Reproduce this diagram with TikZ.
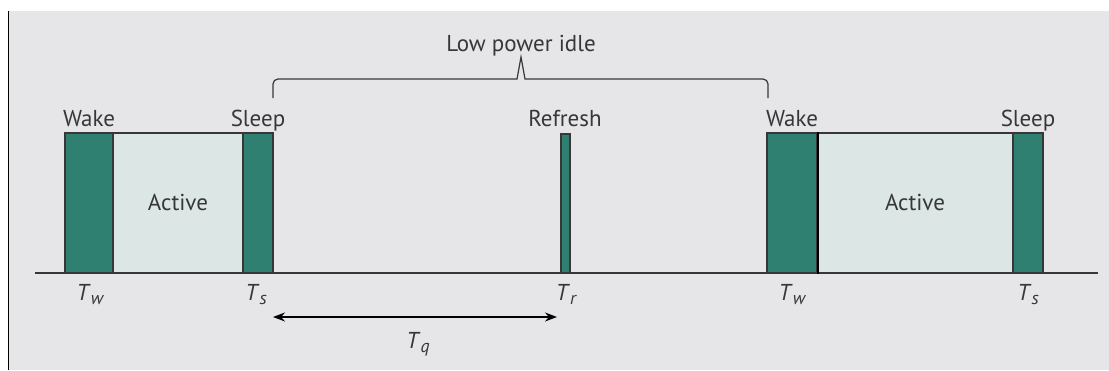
\documentclass[tikz,border=0pt]{standalone}
\usepackage{fontspec}
\setmainfont{PT Sans}
\usetikzlibrary{arrows.meta, positioning, fit, calc}
\definecolor{phasegreen}{RGB}{47,128,113}
\definecolor{activefill}{RGB}{220,231,229}
\definecolor{panelgray}{RGB}{230,230,232}
\definecolor{inkgray}{RGB}{55,55,55}

\newcommand{\tmark}[1]{\textit{T}\raisebox{-0.35ex}{\fontsize{9}{10}\selectfont\itshape #1}}

\begin{document}
\begin{tikzpicture}[x=0.5pt, y=-0.5pt, font=\fontsize{11.5}{13}\selectfont, text=inkgray,
    phase/.style={draw=inkgray, line width=0.6pt, fill=phasegreen, inner sep=0pt},
    activephase/.style={phase, fill=activefill},
    tag/.style={anchor=base, inner sep=0pt}]
    \useasboundingbox (0,0) rectangle (1109,370);

    % Panel
    \fill[white] (0,0) rectangle (1109,370);
    \fill[panelgray] (8,11) rectangle (1109,370);
    \draw[black, line width=0.8pt] (8.5,11) -- (8.5,370);

    % Time axis
    \draw[inkgray, line width=0.6pt] (35,273) -- (1098,273);

    % First cycle
    \node[activephase, fit={(113,133) (243,273)}] (activeA) {};
    \node[phase, fit={(65,133) (113,273)}] (wakeA) {};
    \node[phase, fit={(243,133) (273,273)}] (sleepA) {};
    \node[tag] (activeAtxt) at (178,210) {Active};
    \node[tag] (wakeAtxt) at (89,126) {Wake};
    \node[tag] (sleepAtxt) at (258,126) {Sleep};
    \node[tag] (twA) at (90,300) {\tmark{w}};
    \node[tag] (tsA) at (256,300) {\tmark{s}};

    % Refresh pulse
    \node[phase, fit={(561,134) (570,273)}] (refresh) {};
    \node[tag] (refreshtxt) at (565,126) {Refresh};
    \node[tag] (tr) at (566,300) {\tmark{r}};

    % Second cycle
    \node[activephase, fit={(817,133) (1013,273)}] (activeB) {};
    \node[phase, fit={(767,133) (817,273)}] (wakeB) {};
    \node[phase, fit={(1013,133) (1043,273)}] (sleepB) {};
    \draw[black, line width=1pt] (wakeB.north east) -- (wakeB.south east);
    \node[tag] (activeBtxt) at (915,210) {Active};
    \node[tag] (wakeBtxt) at (792,126) {Wake};
    \node[tag] (sleepBtxt) at (1028,126) {Sleep};
    \node[tag] (twB) at (792,300) {\tmark{w}};
    \node[tag] (tsB) at (1028,300) {\tmark{s}};

    % Low power idle brace
    \coordinate (braceL) at (273,98);
    \coordinate (braceR) at (768,98);
    \coordinate (braceTip) at (521,57);
    \draw[inkgray, line width=0.6pt] (braceL) -- ++(0,-14) to[out=90, in=180] ++(5,-5)
        -- ($(braceTip)+(-4,22)$) -- (braceTip) -- ($(braceTip)+(4,22)$)
        -- ($(braceR)+(-5,-19)$) to[out=0, in=90] ++(5,5) -- (braceR);
    \node[tag] (idletxt) at (521,51) {Low power idle};

    % Quiet period
    \coordinate (tqL) at (273,317);
    \coordinate (tqR) at (557,317);
    \draw[{Stealth[length=6pt, width=4.5pt]}-{Stealth[length=6pt, width=4.5pt]}, black, line width=0.7pt] (tqL) -- (tqR);
    \node[tag] (tq) at (418,348) {\tmark{q}};
\end{tikzpicture}
\end{document}
